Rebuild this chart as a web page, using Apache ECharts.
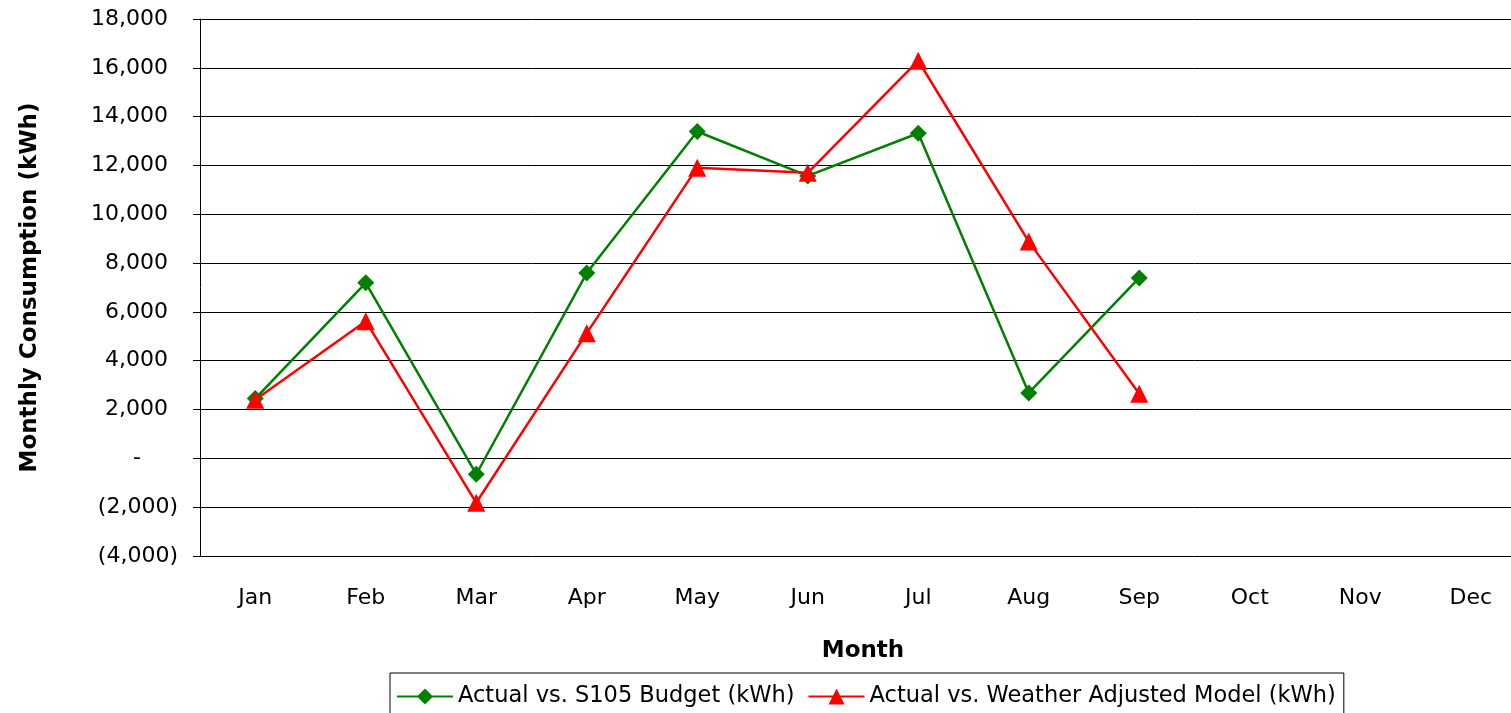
<!DOCTYPE html>
<html>
<head>
<meta charset="utf-8">
<script src="https://cdn.jsdelivr.net/npm/echarts@6/dist/echarts.min.js"></script>
<style>
  html, body { margin: 0; padding: 0; background: #fff; overflow: hidden; }
  /* plot area runs past the right edge of the window, like the original */
  #main { width: 1526px; height: 713px; }
</style>
</head>
<body>
<div id="main"></div>
<script>
// months on the x axis
var months = ['Jan', 'Feb', 'Mar', 'Apr', 'May', 'Jun', 'Jul', 'Aug', 'Sep', 'Oct', 'Nov', 'Dec'];
// Actual vs. S105 Budget (kWh)
var budgetDiff = [2450, 7190, -650, 7590, 13390, 11570, 13320, 2680, 7390, null, null, null];
// Actual vs. Weather Adjusted Model (kWh)
var weatherDiff = [2400, 5620, -1820, 5130, 11910, 11700, 16290, 8880, 2650, null, null, null];
var seriesNames = ['Actual vs. S105 Budget (kWh)', 'Actual vs. Weather Adjusted Model (kWh)'];

var font = 'DejaVu Sans';

function thousands(v) {
    return String(v).replace(/\B(?=(\d{3})+(?!\d))/g, ',');
}

// excel accounting style: 2,000 / (2,000) / -
function yLabel(v) {
    if (v === 0) return '{d|-}';
    if (v < 0) return '{n|(' + thousands(-v) + ')}';
    return '{p|' + thousands(v) + '}';
}

var myChart = echarts.init(document.getElementById('main'));

var option = {
    backgroundColor: '#fff',
    animation: false,
    grid: {
        left: 200,
        top: 19,
        right: 0,
        bottom: 157
    },
    legend: {
        data: seriesNames,
        left: 390,
        top: 673,
        padding: [12, 8, 14, 6],
        itemWidth: 56,
        itemHeight: 20,
        itemGap: 13,
        borderColor: '#000',
        borderWidth: 1,
        textStyle: { fontFamily: font, fontSize: 22.5, color: '#000' }
    },
    xAxis: {
        type: 'category',
        data: months,
        boundaryGap: true,
        name: 'Month',
        nameLocation: 'middle',
        nameGap: 84,
        nameTextStyle: { fontFamily: font, fontSize: 23, fontWeight: 'bold', color: '#000' },
        axisLine: { lineStyle: { color: '#000', width: 1 } },
        axisTick: { show: false },
        axisLabel: { fontFamily: font, fontSize: 22, color: '#000', margin: 31 },
        splitLine: { show: false }
    },
    yAxis: {
        type: 'value',
        min: -4000,
        max: 18000,
        interval: 2000,
        name: 'Monthly Consumption (kWh)',
        nameLocation: 'middle',
        nameGap: 158,
        nameTextStyle: { fontFamily: font, fontSize: 23, fontWeight: 'bold', color: '#000' },
        axisLine: { show: true, lineStyle: { color: '#000', width: 1 } },
        axisTick: { show: true, inside: false, length: 7, lineStyle: { color: '#000' } },
        axisLabel: {
            margin: 22,
            formatter: yLabel,
            fontFamily: font,
            fontSize: 22,
            color: '#000',
            rich: {
                p: { fontFamily: font, fontSize: 22, color: '#000', padding: [0, 10, 0, 0] },
                n: { fontFamily: font, fontSize: 22, color: '#000' },
                d: { fontFamily: font, fontSize: 22, color: '#000', padding: [0, 37, 0, 0] }
            }
        },
        splitLine: { show: true, lineStyle: { color: '#000', width: 1 } }
    },
    series: [
        {
            name: seriesNames[0],
            type: 'line',
            data: budgetDiff,
            symbol: 'diamond',
            symbolSize: 17,
            showAllSymbol: true,
            itemStyle: { color: '#008000' },
            lineStyle: { color: '#008000', width: 2.5 },
            z: 2
        },
        {
            name: seriesNames[1],
            type: 'line',
            data: weatherDiff,
            symbol: 'triangle',
            symbolSize: 18,
            showAllSymbol: true,
            itemStyle: { color: '#ff0000' },
            lineStyle: { color: '#ff0000', width: 2.5 },
            z: 3
        }
    ]
};

myChart.setOption(option);
</script>
</body>
</html>
